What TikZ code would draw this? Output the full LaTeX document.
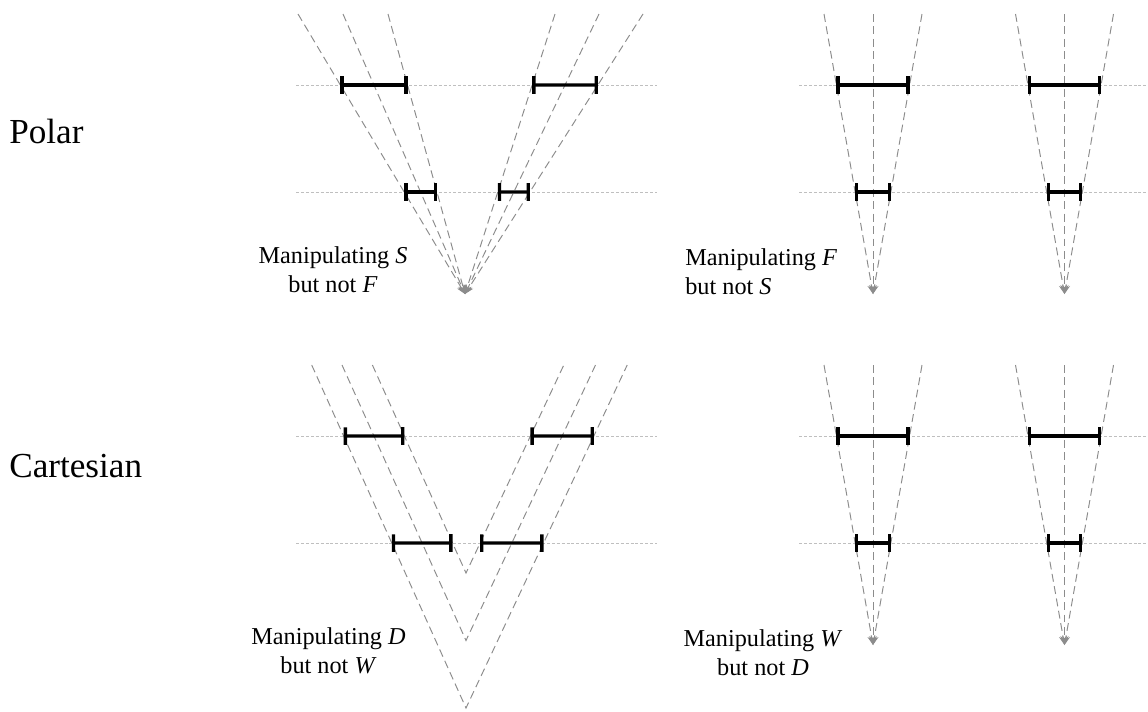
\documentclass[tikz,border=0pt]{standalone}
\usepackage{fontspec}
\setmainfont{Liberation Serif}
\usetikzlibrary{arrows.meta}
\definecolor{raygray}{gray}{0.55}
\definecolor{levelgray}{gray}{0.75}
\begin{document}
\begin{tikzpicture}[x=0.02cm,y=-0.02cm]
    \tikzset{ray/.style={raygray,line width=0.55pt,dash pattern=on 4.5pt off 2.6pt},
        totip/.style={-{Stealth[length=5pt,width=4.6pt]}},
        gridline/.style={levelgray,line width=0.5pt,dash pattern=on 1.7pt off 1.1pt},
        errbar/.style={line width=1.9pt,{Bar[width=10pt]}-{Bar[width=10pt]}},
        manip/.style={font=\fontsize{13.8}{16.5}\selectfont,inner sep=0pt},
        rowname/.style={font=\fontsize{20}{24}\selectfont,inner sep=0pt,anchor=base west}};
    \useasboundingbox (0,0) rectangle (1148,711);
    % row names
    \node[rowname] (polar) at (9,143) {Polar};
    \node[rowname] (cartesian) at (9,477) {Cartesian};
    % polar, manipulating S
    \coordinate (po) at (465,294);
    \coordinate (pl1) at (298,14); \coordinate (pl2) at (343,14); \coordinate (pl3) at (388,14);
    \coordinate (pr1) at (555,14); \coordinate (pr2) at (599,14); \coordinate (pr3) at (643,14);
    \coordinate (pa1) at (296,85); \coordinate (pb1) at (657,85);
    \coordinate (pa2) at (296,192); \coordinate (pb2) at (657,192);
    \draw[gridline] (pa1) -- (pb1);
    \draw[gridline] (pa2) -- (pb2);
    \draw[ray,totip] (pl1) -- (po);
    \draw[ray,totip] (pl2) -- (po);
    \draw[ray,totip] (pl3) -- (po);
    \draw[ray,totip] (pr1) -- (po);
    \draw[ray,totip] (pr2) -- (po);
    \draw[ray,totip] (pr3) -- (po);
    \draw[errbar] (intersection of po--pl1 and pa1--pb1) -- (intersection of po--pl3 and pa1--pb1);
    \draw[errbar] (intersection of po--pr1 and pa1--pb1) -- (intersection of po--pr3 and pa1--pb1);
    \draw[errbar] (intersection of po--pl1 and pa2--pb2) -- (intersection of po--pl3 and pa2--pb2);
    \draw[errbar] (intersection of po--pr1 and pa2--pb2) -- (intersection of po--pr3 and pa2--pb2);
    \node[manip,align=center] (sf) at (333,270) {Manipulating \textit{S}\\but not \textit{F}};
    % polar, manipulating F
    \coordinate (fo) at (873,294);
    \coordinate (fl) at (824,14); \coordinate (fm) at (873,14); \coordinate (fr) at (922,14);
    \coordinate (go) at (1064.5,294);
    \coordinate (gl) at (1015.5,14); \coordinate (gm) at (1064.5,14); \coordinate (gr) at (1113.5,14);
    \coordinate (fa1) at (799,85); \coordinate (fb1) at (1148,85);
    \coordinate (fa2) at (799,192); \coordinate (fb2) at (1148,192);
    \draw[gridline] (fa1) -- (fb1);
    \draw[gridline] (fa2) -- (fb2);
    \draw[ray,totip] (fl) -- (fo);
    \draw[ray,totip] (fm) -- (fo);
    \draw[ray,totip] (fr) -- (fo);
    \draw[ray,totip] (gl) -- (go);
    \draw[ray,totip] (gm) -- (go);
    \draw[ray,totip] (gr) -- (go);
    \draw[errbar] (intersection of fo--fl and fa1--fb1) -- (intersection of fo--fr and fa1--fb1);
    \draw[errbar] (intersection of fo--fl and fa2--fb2) -- (intersection of fo--fr and fa2--fb2);
    \draw[errbar] (intersection of go--gl and fa1--fb1) -- (intersection of go--gr and fa1--fb1);
    \draw[errbar] (intersection of go--gl and fa2--fb2) -- (intersection of go--gr and fa2--fb2);
    \node[manip,align=left,anchor=west] (fs) at (685,271.5) {Manipulating \textit{F}\\but not \textit{S}};
    % cartesian, manipulating D
    \coordinate (c1) at (466,573); \coordinate (c2) at (466,640.5); \coordinate (c3) at (466,708);
    \coordinate (cl1) at (372.4,365); \coordinate (cl2) at (342,365); \coordinate (cl3) at (311.7,365);
    \coordinate (cr1) at (563.8,365); \coordinate (cr2) at (595.5,365); \coordinate (cr3) at (627.2,365);
    \coordinate (ca1) at (296,436); \coordinate (cb1) at (657,436);
    \coordinate (ca2) at (296,543); \coordinate (cb2) at (657,543);
    \draw[gridline] (ca1) -- (cb1);
    \draw[gridline] (ca2) -- (cb2);
    \draw[ray] (cl1) -- (c1) -- (cr1);
    \draw[ray] (cl2) -- (c2) -- (cr2);
    \draw[ray] (cl3) -- (c3) -- (cr3);
    \draw[errbar] (intersection of c3--cl3 and ca1--cb1) -- (intersection of c1--cl1 and ca1--cb1);
    \draw[errbar] (intersection of c1--cr1 and ca1--cb1) -- (intersection of c3--cr3 and ca1--cb1);
    \draw[errbar] (intersection of c3--cl3 and ca2--cb2) -- (intersection of c1--cl1 and ca2--cb2);
    \draw[errbar] (intersection of c1--cr1 and ca2--cb2) -- (intersection of c3--cr3 and ca2--cb2);
    \node[manip,align=center] (dw) at (328.5,651) {Manipulating \textit{D}\\but not \textit{W}};
    % cartesian, manipulating W
    \coordinate (wo) at (873,645);
    \coordinate (wl) at (824,365); \coordinate (wm) at (873,365); \coordinate (wr) at (922,365);
    \coordinate (vo) at (1064.5,645);
    \coordinate (vl) at (1015.5,365); \coordinate (vm) at (1064.5,365); \coordinate (vr) at (1113.5,365);
    \coordinate (wa1) at (799,436); \coordinate (wb1) at (1148,436);
    \coordinate (wa2) at (799,543); \coordinate (wb2) at (1148,543);
    \draw[gridline] (wa1) -- (wb1);
    \draw[gridline] (wa2) -- (wb2);
    \draw[ray,totip] (wl) -- (wo);
    \draw[ray,totip] (wm) -- (wo);
    \draw[ray,totip] (wr) -- (wo);
    \draw[ray,totip] (vl) -- (vo);
    \draw[ray,totip] (vm) -- (vo);
    \draw[ray,totip] (vr) -- (vo);
    \draw[errbar] (intersection of wo--wl and wa1--wb1) -- (intersection of wo--wr and wa1--wb1);
    \draw[errbar] (intersection of wo--wl and wa2--wb2) -- (intersection of wo--wr and wa2--wb2);
    \draw[errbar] (intersection of vo--vl and wa1--wb1) -- (intersection of vo--vr and wa1--wb1);
    \draw[errbar] (intersection of vo--vl and wa2--wb2) -- (intersection of vo--vr and wa2--wb2);
    \node[manip,align=center] (wd) at (763,652.5) {Manipulating \textit{W}\\but not \textit{D}};
\end{tikzpicture}
\end{document}
